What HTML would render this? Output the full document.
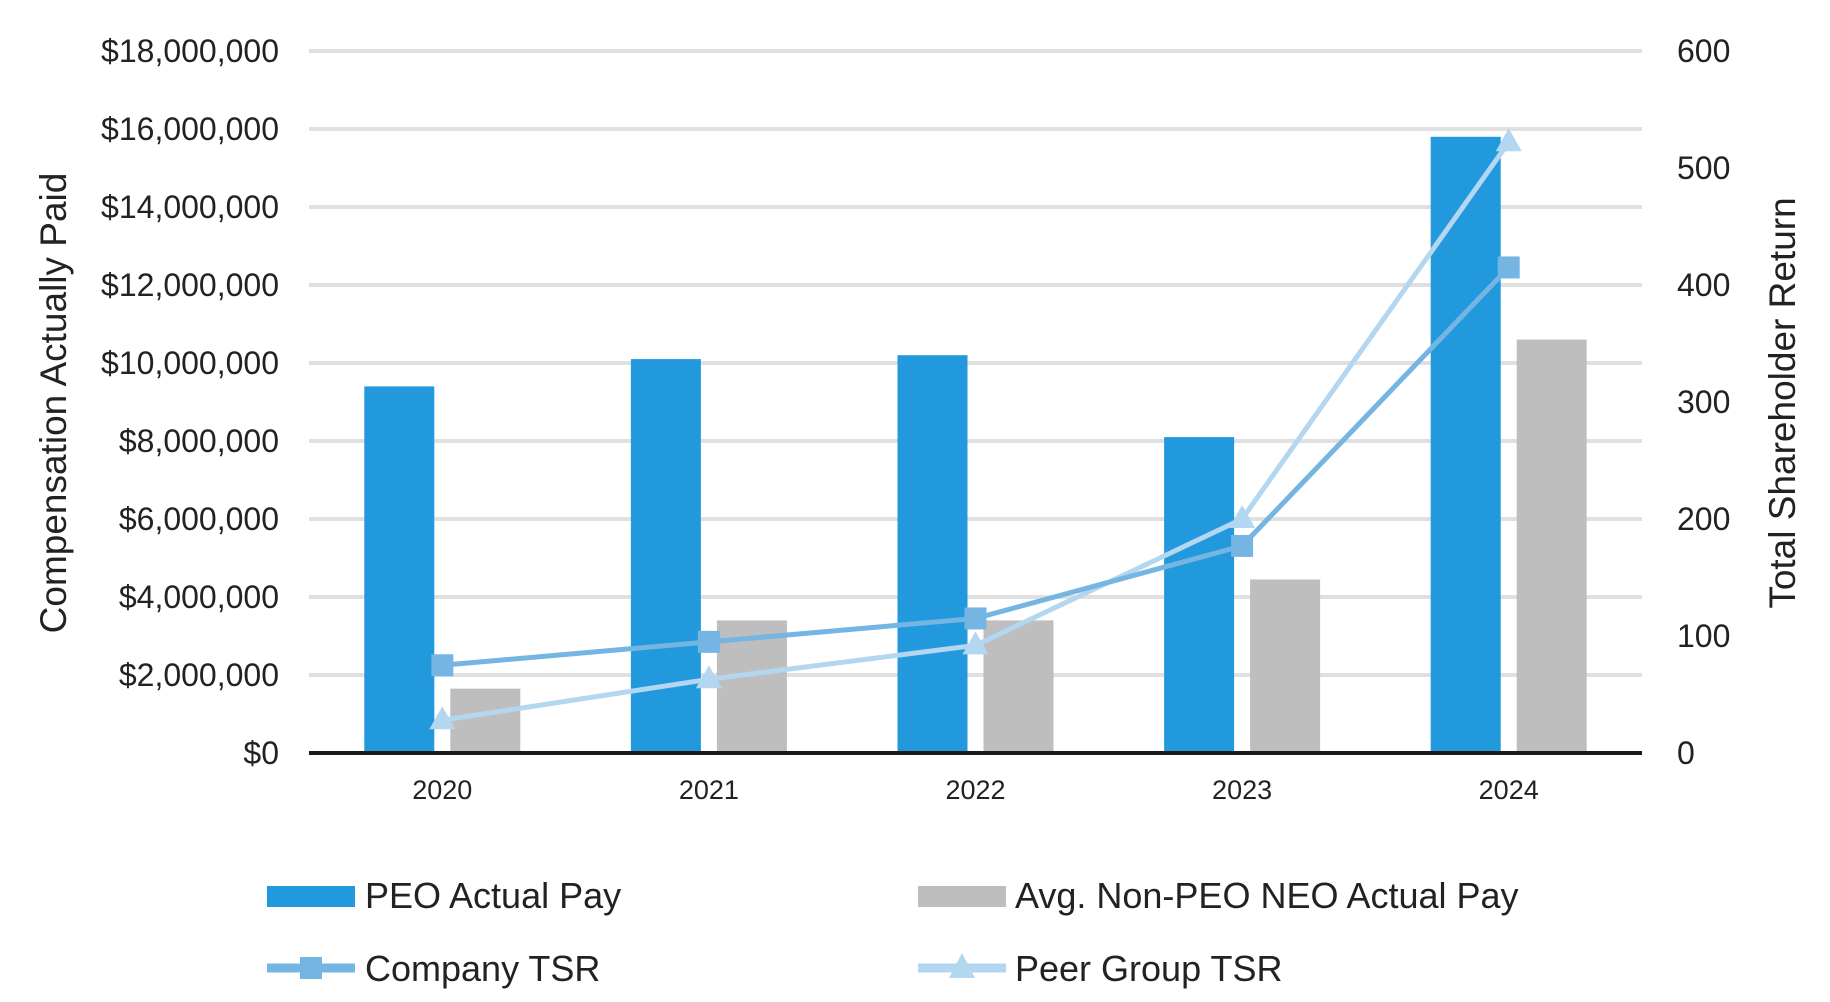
<!DOCTYPE html>
<html><head><meta charset="utf-8"><style>
html,body{margin:0;padding:0;background:#fff;width:1830px;height:1002px;overflow:hidden}
svg text{font-family:"Liberation Sans",Arial,sans-serif;fill:#222}
</style></head><body>
<svg id="chart" width="1830" height="1002" viewBox="0 0 1830 1002" xmlns="http://www.w3.org/2000/svg">
<g id="grid"></g>
<g id="bars"></g>
<g id="lines"></g>
<g id="axes"></g>
<text transform="translate(66,403) rotate(-90)" text-anchor="middle" font-size="37">Compensation Actually Paid</text>
<text transform="translate(1795,403) rotate(-90)" text-anchor="middle" font-size="37">Total Shareholder Return</text>
<g>
<g><rect x="267" y="886" width="88" height="21" fill="#2299dc"/><text x="365" y="908" font-size="36">PEO Actual Pay</text></g>
<g><rect x="918" y="886" width="88" height="21" fill="#bebebf"/><text x="1015" y="908" font-size="36">Avg. Non-PEO NEO Actual Pay</text></g>
<g><line x1="267" y1="968" x2="355" y2="968" stroke="#74b5e3" stroke-width="9"/><rect x="300" y="957" width="22" height="22" fill="#74b5e3"/><text x="365" y="981" font-size="36">Company TSR</text></g>
<g><line x1="918" y1="968" x2="1006" y2="968" stroke="#b3d6f1" stroke-width="9"/><polygon points="962,953 975,978 949,978" fill="#b3d6f1"/><text x="1015" y="981" font-size="36">Peer Group TSR</text></g>
</g>
</svg>
<script>
const years = ["2020","2021","2022","2023","2024"];
const peoPay = [9400000,10100000,10200000,8100000,15800000];
const neoPay = [1650000,3400000,3400000,4450000,10600000];
const companyTSR = [75,95,115,177,415];
const peerTSR = [28,63,92,200,522];
const leftTicks = [0,2000000,4000000,6000000,8000000,10000000,12000000,14000000,16000000,18000000];
const rightTicks = [0,100,200,300,400,500,600];

const NS="http://www.w3.org/2000/svg";
const L=309,R=1642,T=51,B=753;
const band=(R-L)/years.length;
const xc=i=>L+(i+0.5)*band;
const yL=v=>B-(v/18000000)*(B-T);
const yR=v=>B-(v/600)*(B-T);
function mk(tag,attrs,parent){const e=document.createElementNS(NS,tag);for(const k in attrs)e.setAttribute(k,attrs[k]);parent.appendChild(e);return e;}
const grid=document.getElementById('grid'),bars=document.getElementById('bars'),lines=document.getElementById('lines'),axes=document.getElementById('axes');
leftTicks.forEach(v=>{
  if(v>0){const g=mk('line',{x1:L,x2:R,y1:yL(v),y2:yL(v),stroke:'#e0e0e0','stroke-width':4},grid);
  
  }
  const t=mk('text',{x:279,y:yL(v)+11,'text-anchor':'end','font-size':32},axes);
  t.textContent='$'+v.toLocaleString('en-US');
  
  
});
rightTicks.forEach(v=>{
  const t=mk('text',{x:1677,y:yR(v)+11,'font-size':32},axes);
  t.textContent=v;
  
  
});
years.forEach((y,i)=>{
  const b1=mk('rect',{x:xc(i)-78,y:yL(peoPay[i]),width:70,height:B-yL(peoPay[i]),fill:'#2299dc'},bars);
  
  
  const b2=mk('rect',{x:xc(i)+8,y:yL(neoPay[i]),width:70,height:B-yL(neoPay[i]),fill:'#bebebf'},bars);
  
  
  const t=mk('text',{x:xc(i),y:799,'text-anchor':'middle','font-size':27},axes);
  t.textContent=y;
  
  
});
const ax=mk('line',{x1:L,x2:R,y1:B,y2:B,stroke:'#1a1a1a','stroke-width':4},axes);


function series(vals,color,name,tri){
  const p=mk('polyline',{points:vals.map((v,i)=>xc(i)+','+yR(v)).join(' '),fill:'none',stroke:color,'stroke-width':5},lines);
  
  
  vals.forEach((v,i)=>{
    let m;
    if(tri){const x=xc(i),y=yR(v);m=mk('polygon',{points:`${x},${y-14} ${x+13},${y+9} ${x-13},${y+9}`,fill:color},lines);}
    else m=mk('rect',{x:xc(i)-11,y:yR(v)-11,width:22,height:22,fill:color},lines);
    
    
  });
}
series(peerTSR,'#b3d6f1','peer-tsr',true);
series(companyTSR,'#74b5e3','company-tsr',false);
</script>
</body></html>
